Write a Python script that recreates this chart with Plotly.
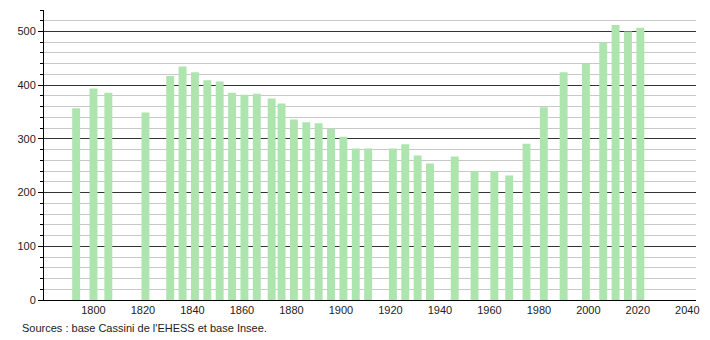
import plotly.graph_objects as go

years = [1793, 1800, 1806, 1821, 1831, 1836, 1841, 1846, 1851, 1856, 1861, 1866,
         1872, 1876, 1881, 1886, 1891, 1896, 1901, 1906, 1911, 1921, 1926, 1931,
         1936, 1946, 1954, 1962, 1968, 1975, 1982, 1990, 1999, 2006, 2011, 2016, 2021]
population = [357, 394, 386, 349, 417, 435, 424, 409, 407, 386, 382, 384,
              375, 366, 336, 331, 329, 319, 304, 282, 282, 282, 290, 269,
              254, 267, 240, 240, 232, 291, 359, 424, 440, 479, 512, 500, 507]
x_ticks = [1800, 1820, 1840, 1860, 1880, 1900, 1920, 1940, 1960, 1980, 2000, 2020, 2040]
y_ticks = [0, 100, 200, 300, 400, 500]
source_text = "Sources : base Cassini de l'EHESS et base Insee."

fig = go.Figure()
fig.add_trace(go.Bar(x=years, y=population, width=3.2,
                     marker=dict(color="#aee4ae", line=dict(width=0)),
                     hoverinfo="x+y"))

fig.update_layout(
    width=710, height=340,
    margin=dict(l=44, r=10, t=10, b=40),
    paper_bgcolor="white", plot_bgcolor="white",
    showlegend=False,
    font=dict(family="Liberation Sans, Arial, sans-serif", size=11, color="#222"),
    xaxis=dict(range=[1780, 2043.5], tickmode="array", tickvals=x_ticks,
               showgrid=False, zeroline=False, showline=True, linecolor="#000",
               linewidth=1, ticks="", tickfont=dict(size=11)),
    yaxis=dict(range=[0, 540], tickmode="array", tickvals=y_ticks,
               showgrid=True, gridcolor="#333", gridwidth=1,
               zeroline=False, showline=True, linecolor="#000", linewidth=1,
               ticks="outside", ticklen=5, tickcolor="#000",
               minor=dict(dtick=20, showgrid=True, gridcolor="#c8c8c8",
                          ticks="outside", ticklen=3, tickcolor="#000"),
               tickfont=dict(size=11)),
    annotations=[dict(text=source_text, x=20, y=328, xref="paper", yref="paper",
                      showarrow=False, xanchor="left", yanchor="middle",
                      font=dict(size=11, color="#222"))],
)
# place the annotation in pixel terms via paper coords
fig.layout.annotations[0].x = (20 - 44) / (710 - 54)
fig.layout.annotations[0].y = (300 - 328) / (340 - 50)

fig.write_html("out.html")
